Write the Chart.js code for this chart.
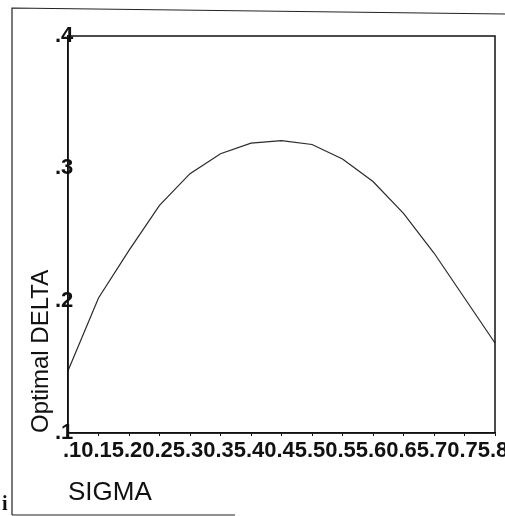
<!DOCTYPE html>
<html>
<head>
<meta charset="utf-8">
<script src="https://cdn.jsdelivr.net/npm/chart.js@4"></script>
<style>
  html, body { margin: 0; padding: 0; background: #fff; }
  #wrap { width: 505px; height: 516px; position: relative; }
</style>
</head>
<body>
<div id="wrap"><canvas id="chart"></canvas></div>
<script>
// sigma values on the x axis
const sigmaLabels = [".10", ".15", ".20", ".25", ".30", ".35", ".40", ".45", ".50", ".55", ".60", ".65", ".70", ".75", ".8"];
// optimal delta
const optimalDelta = [0.147, 0.202, 0.238, 0.272, 0.296, 0.311, 0.319, 0.321, 0.318, 0.307, 0.290, 0.266, 0.236, 0.202, 0.168];
const yTicks = [0.1, 0.2, 0.3, 0.4];
const yTickLabels = [".1", ".2", ".3", ".4"];

const font = "'Liberation Sans', Arial, Helvetica, sans-serif";

// frame round the plot area and the scanned page border
const framePlugin = {
    id: "frame",
    afterDraw(chart) {
        const ctx = chart.ctx;
        const a = chart.chartArea;
        ctx.save();
        ctx.strokeStyle = "#111";
        ctx.lineWidth = 1.5;
        ctx.strokeRect(a.left, a.top, a.right - a.left, a.bottom - a.top);
        ctx.lineWidth = 1.2;
        ctx.strokeStyle = "#222";
        ctx.beginPath();
        ctx.moveTo(12, 515);
        ctx.lineTo(12, 8);
        ctx.lineTo(505, 14);
        ctx.moveTo(12, 515);
        ctx.lineTo(235, 515);
        ctx.stroke();
        ctx.fillStyle = "#111";
        ctx.font = "bold 20px 'Liberation Serif', serif";
        ctx.fillText("i", 2, 510);
        ctx.restore();
    }
};

new Chart(document.getElementById("chart"), {
    type: "line",
    data: {
        labels: sigmaLabels,
        datasets: [{
            data: optimalDelta,
            borderColor: "#2a2a2a",
            borderWidth: 1.2,
            pointRadius: 0,
            tension: 0,
            fill: false
        }]
    },
    options: {
        responsive: true,
        maintainAspectRatio: false,
        animation: false,
        layout: { padding: { left: 0, top: 36, right: 10, bottom: 0 } },
        plugins: {
            legend: { display: false },
            tooltip: { enabled: false }
        },
        scales: {
            x: {
                type: "category",
                offset: false,
                border: { display: true, color: "#111", width: 1.5 },
                grid: { display: true, drawOnChartArea: false, color: "#111", tickLength: 3 },
                ticks: {
                    autoSkip: false,
                    maxRotation: 0,
                    minRotation: 0,
                    align: "start",
                    labelOffset: -5,
                    padding: 2,
                    color: "#111",
                    font: { family: font, size: 22, weight: "bold" }
                },
                title: {
                    display: true,
                    text: "SIGMA",
                    align: "start",
                    color: "#111",
                    font: { family: font, size: 26 },
                    padding: { top: 0, bottom: 8 }
                },
                afterFit(scale) {
                    scale.height = 83;
                    scale.paddingLeft = 0;
                    scale.paddingRight = 0;
                }
            },
            y: {
                min: 0.1,
                max: 0.4,
                border: { display: true, color: "#111", width: 1.5 },
                grid: { display: true, drawOnChartArea: false, drawTicks: false },
                afterBuildTicks(scale) {
                    scale.ticks = yTicks.map(v => ({ value: v }));
                },
                ticks: {
                    mirror: true,
                    padding: -13,
                    color: "#111",
                    font: { family: font, size: 22, weight: "bold" },
                    callback: (v) => yTickLabels[yTicks.indexOf(Math.round(v * 10) / 10)]
                },
                title: {
                    display: true,
                    text: "Optimal DELTA",
                    align: "start",
                    color: "#111",
                    font: { family: font, size: 24 },
                    padding: { top: 27, bottom: 0 }
                },
                afterFit(scale) {
                    scale.width = 68;
                    scale.paddingTop = 0;
                    scale.paddingBottom = 0;
                }
            }
        }
    },
    plugins: [framePlugin]
});
</script>
</body>
</html>
